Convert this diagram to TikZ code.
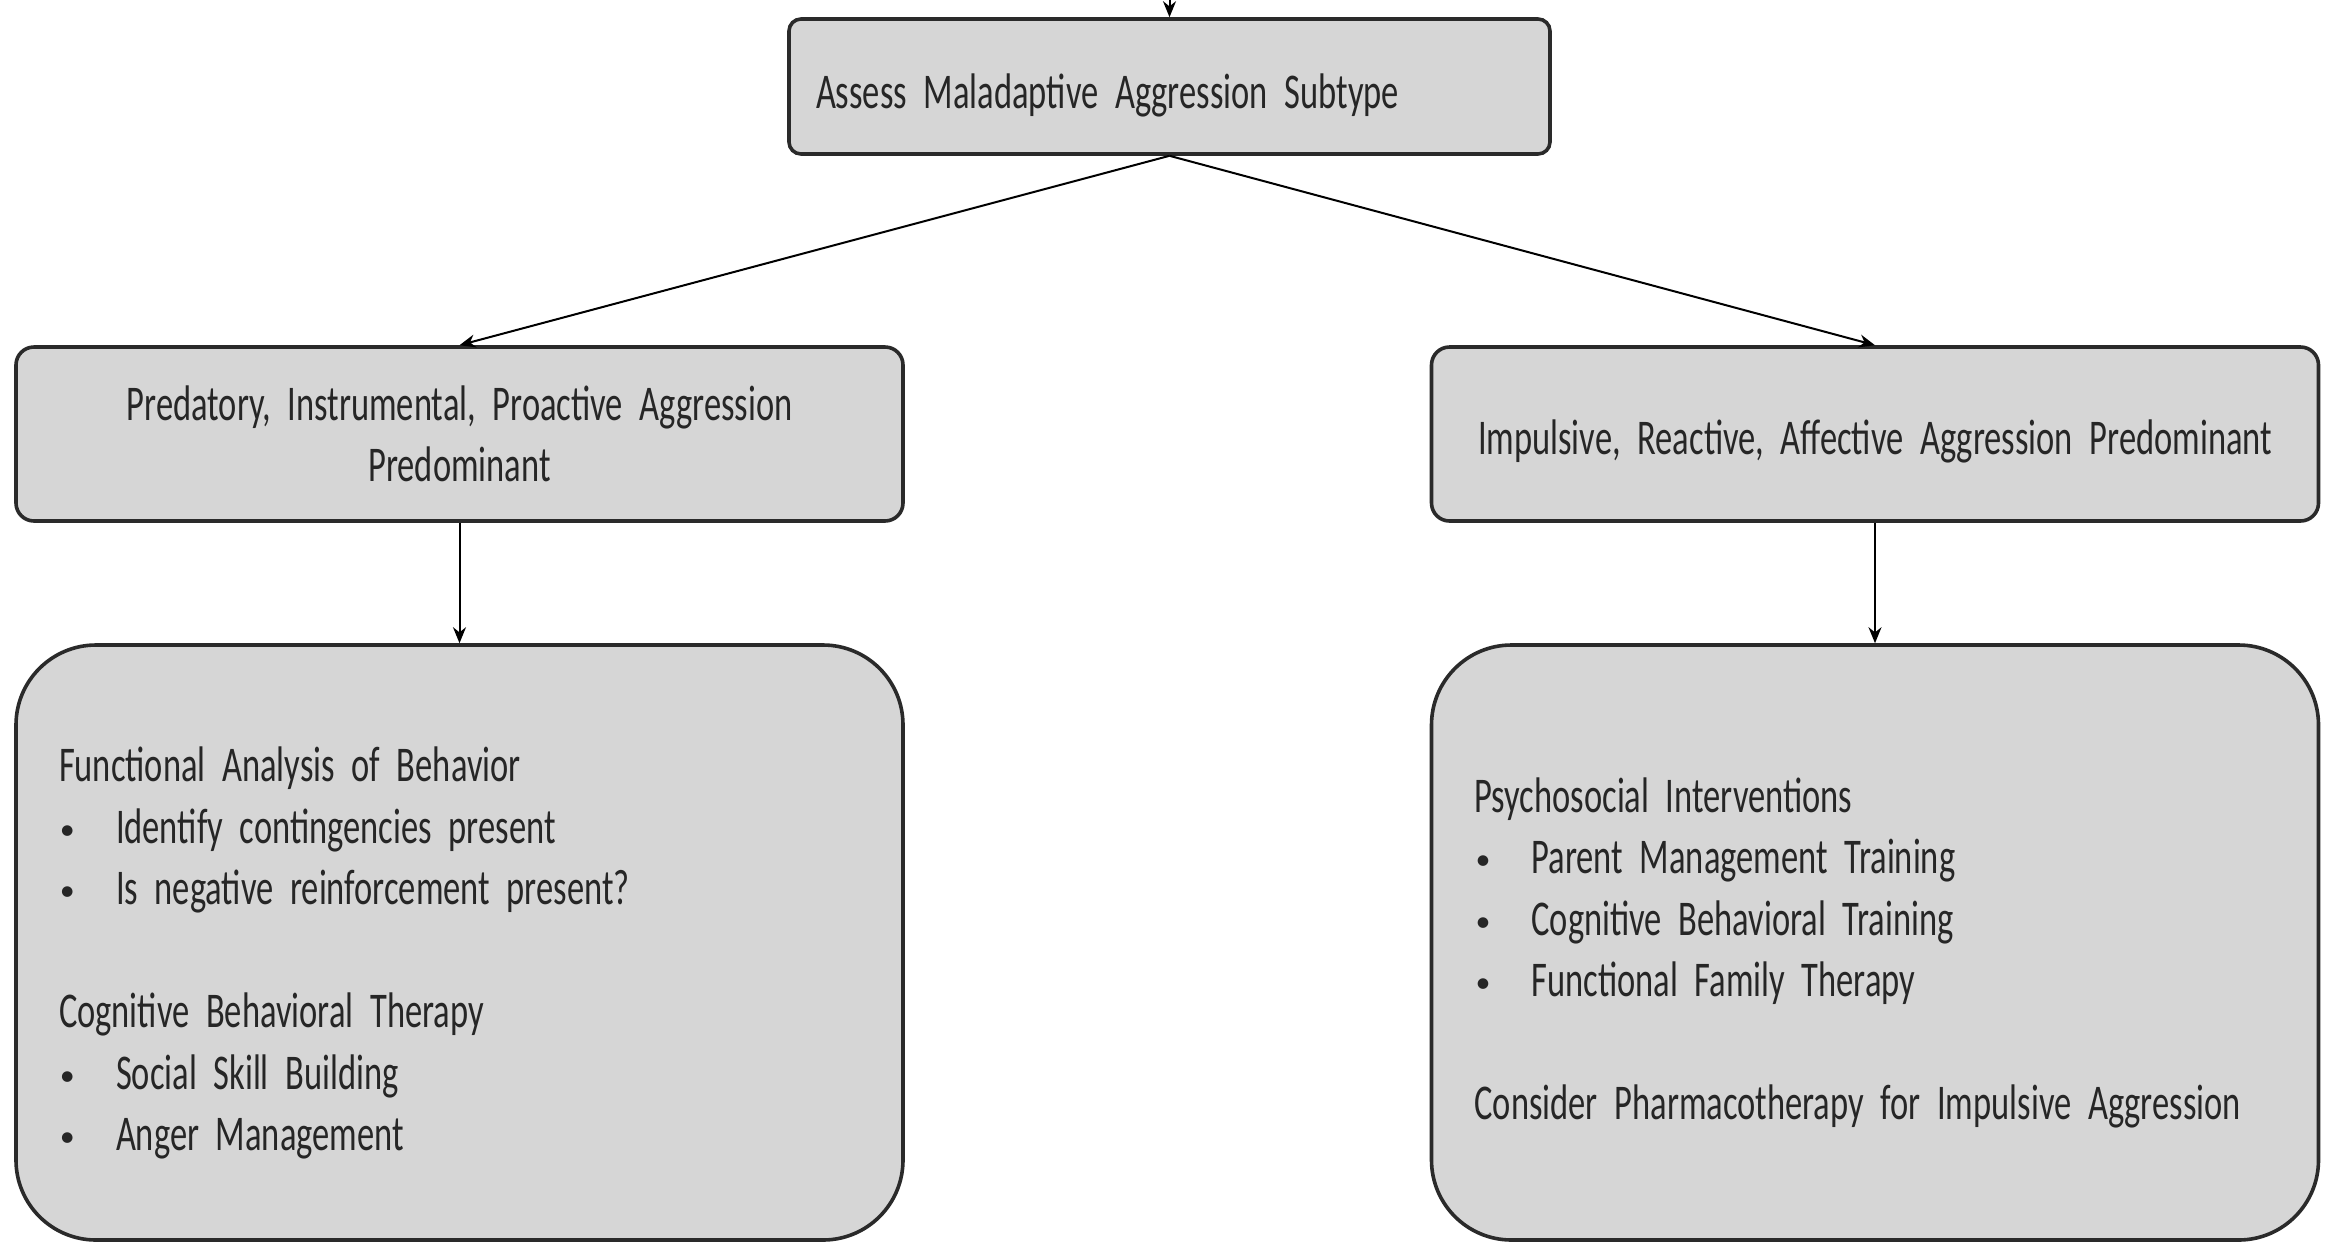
\documentclass[tikz,border=0pt]{standalone}
\usepackage{fontspec}
\setmainfont{Carlito}[FakeStretch=0.69]
\newfontfamily\bulfont{Carlito}
\usetikzlibrary{arrows.meta}
\definecolor{boxgray}{HTML}{D6D6D6}
\definecolor{edgegray}{HTML}{2A2A2A}
\newcommand{\boxfont}{\fontsize{25}{30.75}\selectfont}
\newcommand{\bul}{\hspace*{0.5pt}\makebox[28pt][l]{\raisebox{2pt}{\bulfont\fontsize{15}{15}\selectfont •}}}
\newcommand{\upstrut}[1]{\rule{0pt}{#1}}
\begin{document}
\begin{tikzpicture}[x=0.5pt,y=-0.5pt,
  txt/.style={font=\boxfont, text=black!85},
  box/.style={txt, draw=edgegray, line width=1.8pt, fill=boxgray, inner ysep=0pt},
  topbox/.style={box, rounded corners=6pt, minimum width=380.5pt, minimum height=67.5pt,
     inner xsep=13.5pt, text width=353.5pt, align=left},
  midbox/.style={box, rounded corners=9pt, minimum width=443.5pt, minimum height=87pt,
     inner xsep=10pt, text width=423.5pt, align=center},
  lowbox/.style={box, rounded corners=40pt, minimum width=443.5pt, minimum height=297.5pt,
     inner xsep=21.5pt, text width=400.5pt, align=left},
  arr/.style={draw=black, line width=1pt, -{Stealth[length=8pt,width=6.5pt]}}]
\useasboundingbox (0,0) rectangle (2326,1244);
\fill[white] (0,0) rectangle (2326,1244);

\coordinate (topin) at (1169.5,0);
\node[topbox] (top) at (1169.5,86.5) {\upstrut{26pt}Assess Maladaptive Aggression Subtype};

\node[midbox] (lmid) at (459.5,434) {Predatory, Instrumental, Proactive Aggression\\Predominant};
\node[midbox] (rmid) at (1875,434) {\upstrut{25pt}Impulsive, Reactive, Affective Aggression Predominant};

\node[lowbox] (llow) at (459.5,942.5) {\upstrut{28pt}Functional Analysis of Behavior\\
\bul Identify contingencies present\\
\bul Is negative reinforcement present?\\
\mbox{}\\
Cognitive Behavioral Therapy\\
\bul Social Skill Building\\
\bul Anger Management};

\node[lowbox] (rlow) at (1875,942.5) {\upstrut{28pt}Psychosocial Interventions\\
\bul Parent Management Training\\
\bul Cognitive Behavioral Training\\
\bul Functional Family Therapy\\
\mbox{}\\
Consider Pharmacotherapy for Impulsive Aggression};

\draw[arr] (topin) -- (top.north);
\draw[arr] (top.south) -- (lmid.north);
\draw[arr] (top.south) -- (rmid.north);
\draw[arr] (lmid.south) -- (llow.north);
\draw[arr] (rmid.south) -- (rlow.north);
\end{tikzpicture}
\end{document}
